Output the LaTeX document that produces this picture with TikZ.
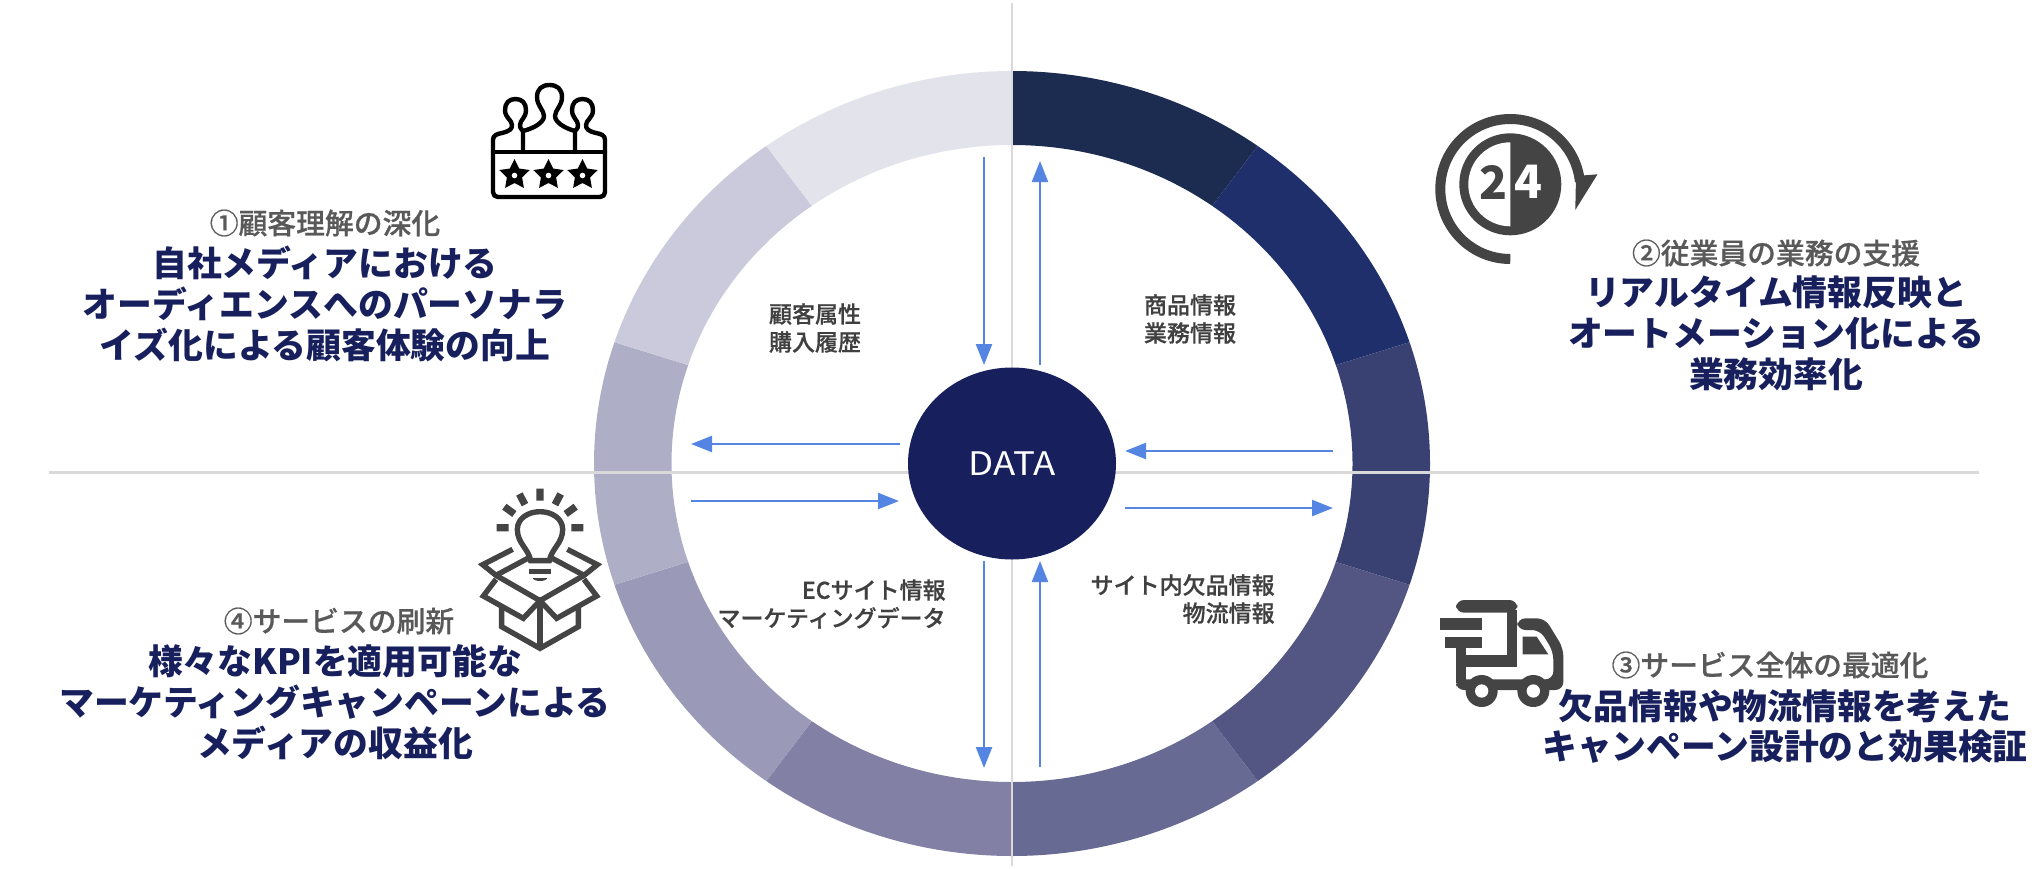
\documentclass[tikz,border=0pt]{standalone}
\usepackage{fontspec}
\setmainfont{Noto Sans CJK JP}
\newfontfamily\jpm[FakeBold=0.6]{Noto Sans CJK JP Medium}
\usetikzlibrary{arrows.meta,shapes.geometric}
\definecolor{navy}{HTML}{17205C}
\definecolor{headgray}{HTML}{595959}
\definecolor{labelgray}{HTML}{404040}
\definecolor{icongray}{HTML}{444444}
\definecolor{flow}{HTML}{5585E2}
\definecolor{rule}{HTML}{D9D9D9}
\tikzset{
  axis/.style={draw=rule,line width=1.25pt},
  flowarrow/.style={draw=flow,line width=1.2pt,-{Triangle[length=10.5pt,width=8pt]}},
  head/.style={font=\jpm\fontsize{14.4}{18}\selectfont,text=headgray,inner sep=0pt,anchor=center},
  main/.style={font=\bfseries\fontsize{17.4}{20.5}\selectfont,text=navy,align=center,inner sep=0pt,anchor=center},
  lab/.style={font=\jpm\fontsize{11.5}{14}\selectfont,text=labelgray,inner sep=0pt},
  iconline/.style={draw=icongray,line width=2.7pt,line join=miter},
}
\begin{document}
\begin{tikzpicture}[x=0.5pt,y=-0.5pt]
\useasboundingbox (0,0) rectangle (2036,868);
% ring
\foreach \k/\c in {0/1C2C50,1/1F2F6B,2/384172,3/535583,4/676A92,5/8280A5,6/9A9AB8,7/AEAFC7,8/CACADC,9/E3E3EB}{
  \pgfmathsetmacro{\a}{-90+36*\k}
  \pgfmathsetmacro{\b}{-54+36*\k}
  \definecolor{seg}{HTML}{\c}
  \fill[seg] ({1012+418*cos(\a)},{463.5+392.5*sin(\a)}) arc[x radius=418,y radius=392.5,start angle=\a,end angle=\b]
    -- ({1012+340.5*cos(\b)},{463.5+318.5*sin(\b)}) arc[x radius=340.5,y radius=318.5,start angle=\b,end angle=\a] -- cycle;
}
% axes
\coordinate (vtop) at (1012,3);
\coordinate (vbot) at (1012,866);
\coordinate (hleft) at (49,472.5);
\coordinate (hright) at (1979,472.5);
\draw[axis] (vtop) -- (vbot);
\draw[axis] (hleft) -- (hright);
% centre
\node[ellipse,fill=navy,minimum width=104pt,minimum height=96pt,inner sep=0pt,text=white,font=\fontsize{16.2}{18}\selectfont] (data) at (1012,463.5) {\scalebox{1.13}[1]{DATA}};
% arrows
\coordinate (a1s) at (984,157); \coordinate (a1e) at (984,365);
\coordinate (a2s) at (1040,365); \coordinate (a2e) at (1040,161);
\coordinate (a3s) at (900,444); \coordinate (a3e) at (691,444);
\coordinate (a4s) at (691,501); \coordinate (a4e) at (899,501);
\coordinate (a5s) at (1333,451); \coordinate (a5e) at (1125,451);
\coordinate (a6s) at (1125,508); \coordinate (a6e) at (1333,508);
\coordinate (a7s) at (984,561); \coordinate (a7e) at (984,768);
\coordinate (a8s) at (1040,767); \coordinate (a8e) at (1040,561);
\foreach \n in {1,...,8}{\draw[flowarrow] (a\n s) -- (a\n e);}
% centre labels
\node[lab,align=center] (l1) at (815,328) {顧客属性\\購入履歴};
\node[lab,align=center] (l2) at (1190,319) {商品情報\\業務情報};
\node[lab,align=right,anchor=east] (l3) at (946,604) {ECサイト情報\\マーケティングデータ};
\node[lab,align=right,anchor=east] (l4) at (1275,599) {サイト内欠品情報\\物流情報};
% quadrant text
\node[head] (h1) at (325,223) {①顧客理解の深化};
\node[main] (m1) at (325,304) {自社メディアにおける\\オーディエンスへのパーソナラ\\イズ化による顧客体験の向上};
\node[head] (h2) at (1776,253) {②従業員の業務の支援};
\node[main] (m2) at (1776,333) {リアルタイム情報反映と\\オートメーション化による\\業務効率化};
\node[head] (h3) at (1770,665) {③サービス全体の最適化};
\node[main,font=\bfseries\fontsize{17.4}{20}\selectfont] (m3) at (1785,726) {欠品情報や物流情報を考えた\\キャンペーン設計のと効果検証};
\node[head] (h4) at (339,621) {④サービスの刷新};
\node[main] (m4) at (335,702) {様々なKPIを適用可能な\\マーケティングキャンペーンによる\\メディアの収益化};
% icon 1: people and stars
\begin{scope}[black,line width=2.2pt,line join=round,line cap=round]
\draw (493,152) -- (605,152);
\draw (523,152) -- (523,131) .. controls (535,128) and (544,122) .. (544,116) .. controls (544,110) and (537,106) .. (537,97) .. controls (537,89) and (542,85) .. (549.5,85) .. controls (557,85) and (562,89) .. (562,97) .. controls (562,106) and (555,110) .. (555,116) .. controls (555,122) and (564,128) .. (575,131) -- (575,152);
\draw (523,131) .. controls (520,128) and (520,127) .. (520,125) .. controls (520,120) and (526,118) .. (526,110) .. controls (526,103) and (522,99) .. (515.5,99) .. controls (509,99) and (505,103) .. (505,110) .. controls (505,118) and (512,120) .. (512,125) .. controls (512,129) and (510,131) .. (502,133) .. controls (497,134) and (493,135) .. (493,140) -- (493,192) .. controls (493,195) and (495,197) .. (498,197) -- (600,197) .. controls (603,197) and (605,195) .. (605,192) -- (605,140) .. controls (605,135) and (601,134) .. (596,133) .. controls (588,131) and (586,129) .. (586,125) .. controls (586,120) and (593,118) .. (593,110) .. controls (593,103) and (589,99) .. (582.5,99) .. controls (576,99) and (572,103) .. (572,110) .. controls (572,118) and (578,120) .. (578,125) .. controls (578,127) and (578,128) .. (575,131);
\foreach \sx in {514.5,548.5,582.5}{
  \fill ({\sx+16*cos(-90)},{175+16*sin(-90)})
    \foreach \t in {-54,-18,...,270}{
      -- ({\sx+(mod(round((\t+90)/36),2)==0 ? 16 : 8)*cos(\t)},{175+(mod(round((\t+90)/36),2)==0 ? 16 : 8)*sin(\t)})
    } -- cycle;
  \fill[white] (\sx,175.5) circle[radius=2.8];
}
\end{scope}
% icon 2: 24 clock
\begin{scope}[icongray]
\draw[line width=5pt] (1510.3,259) arc[radius=70,start angle=90,end angle=354];
\fill (1576,176) -- (1597.5,174.3) -- (1575.3,210) -- cycle;
\fill (1510.3,184.3) circle[radius=51];
\fill[white] (1510.3,226.3) arc[radius=42,start angle=90,end angle=270] -- cycle;
\node[font=\bfseries\fontsize{23}{24}\selectfont,text=icongray,inner sep=0pt] (two) at (1493.5,182) {2};
\node[font=\bfseries\fontsize{23}{24}\selectfont,text=white,inner sep=0pt] (four) at (1528,182) {4};
\end{scope}
% icon 3: truck
\begin{scope}[shift={(1420,580)},x=0.16667pt,y=-0.16667pt,icongray]
\fill[rounded corners=4pt] (108,98) -- (108,60) -- (292,60) -- (292,98) -- cycle;
\fill (262,90) rectangle (292,260);
\fill (137,225) rectangle (292,260);
\fill (108,205) rectangle (137,310);
\fill (60,115) rectangle (185,150);
\fill (75,170) rectangle (185,205);
\fill[rounded corners=4pt] (292,115) -- (375,115) -- (430,205) -- (430,330) -- (108,330) -- (108,298) -- (400,298) -- (400,215) -- (360,150) -- (292,150) -- cycle;
\fill (308,170) -- (350,170) -- (385,223) -- (308,223) -- cycle;
\fill (185,333) circle[radius=48];
\fill (340,333) circle[radius=48];
\fill[white] (185,333) circle[radius=20];
\fill[white] (340,333) circle[radius=20];
\end{scope}
% icon 4: box and bulb
\begin{scope}[shift={(460,470)},x=0.16667pt,y=-0.16667pt]
\draw[iconline] (212,272) .. controls (205,235) and (172,220) .. (172,178) .. controls (172,145) and (205,125) .. (240,125) .. controls (275,125) and (308,145) .. (308,178) .. controls (308,220) and (275,235) .. (268,272) -- cycle;
\draw[iconline] (208,305) -- (272,305);
\fill[icongray] (218,324) -- (262,324) .. controls (258,336) and (222,336) .. (218,324) -- cycle;
\draw[icongray,line width=3.6pt]
  (240,56) -- (240,92) (178,72) -- (195,104) (302,72) -- (285,104)
  (133,110) -- (163,132) (347,110) -- (317,132) (110,173) -- (146,173) (334,173) -- (370,173);
\draw[iconline] (158,238) -- (68,284) -- (108,316) -- (205,264);
\draw[iconline] (322,238) -- (412,284) -- (372,316) -- (275,264);
\draw[iconline] (108,316) -- (240,392) -- (372,316);
\draw[iconline] (108,328) -- (70,378) -- (190,445) -- (240,392) -- (290,445) -- (410,378) -- (372,328);
\draw[iconline] (125,412) -- (125,470) -- (240,535) -- (355,470) -- (355,412);
\draw[iconline] (240,392) -- (240,535);
\end{scope}
\end{tikzpicture}
\end{document}
